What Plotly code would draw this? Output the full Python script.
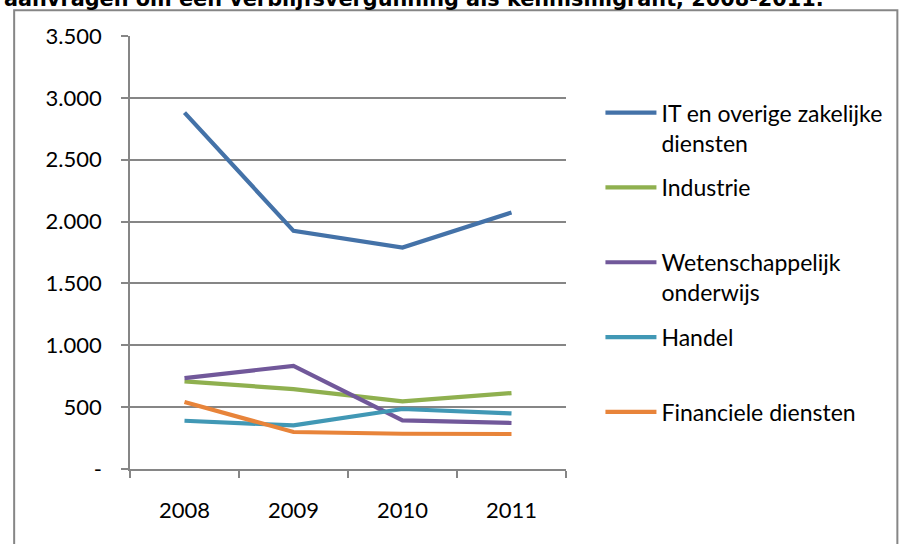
import plotly.graph_objects as go

years = ["2008", "2009", "2010", "2011"]

it_diensten = [2880, 1925, 1790, 2073]
industrie = [708, 646, 546, 614]
wetenschappelijk = [735, 834, 393, 372]
handel = [390, 352, 485, 449]
financieel = [541, 299, 285, 283]

series_names = [
    "IT en overige zakelijke<br>diensten",
    "Industrie<br> ",
    "Wetenschappelijk<br>onderwijs",
    "Handel<br> ",
    "Financiele diensten<br> ",
]
series_values = [it_diensten, industrie, wetenschappelijk, handel, financieel]
series_colors = ["#4472A8", "#8FB04F", "#71589A", "#4198B5", "#E8843A"]

y_tickvals = [0, 500, 1000, 1500, 2000, 2500, 3000, 3500]
y_ticktext = ["-", "500", "1.000", "1.500", "2.000", "2.500", "3.000", "3.500"]

title_text = "aanvragen om een verblijfsvergunning als kennismigrant, 2008-2011."

grid_grey = "#868686"
font_family = "Lato, 'Open Sans', sans-serif"

fig = go.Figure()
for i, (name, vals, col) in enumerate(zip(series_names, series_values, series_colors)):
    fig.add_trace(go.Scatter(
        x=years, y=vals, name=name, mode="lines",
        line=dict(color=col, width=4.2),
        legendgroup=f"g{i}",
    ))

# plot area in pixels: x 129.5..571.7, y 35.7..469.3
fig.update_layout(
    width=900, height=544,
    margin=dict(l=129.5, r=328.3, t=35.7, b=74.7),
    paper_bgcolor="white", plot_bgcolor="white",
    font=dict(family=font_family, size=22, color="#000000"),
    showlegend=True,
    legend=dict(
        x=1.079, xanchor="left", y=0.8725, yanchor="top",
        font=dict(family=font_family, size=23, color="#000000"),
        valign="top", traceorder="grouped", tracegroupgap=12,
        itemwidth=51, bgcolor="rgba(0,0,0,0)",
    ),
    annotations=[dict(
        text="<b>" + title_text + "</b>",
        xref="paper", yref="paper", x=-0.2929, y=1.0524,
        xanchor="left", yanchor="bottom", showarrow=False,
        font=dict(family="DejaVu Sans", size=20.8, color="#000000"),
    )],
    shapes=[dict(
        type="rect", xref="paper", yref="paper",
        x0=-0.2657, x1=1.76, y0=-0.2, y1=1.0593,
        line=dict(color=grid_grey, width=2), layer="below",
    )],
)

fig.update_xaxes(
    type="category", range=[-0.5, 3.5],
    tickson="boundaries", ticks="outside", ticklen=7, tickcolor=grid_grey, tickwidth=1.5,
    showline=True, linecolor=grid_grey, linewidth=1.5,
    showgrid=False, zeroline=False, ticklabelstandoff=21,
)
fig.update_yaxes(
    range=[0, 3500], tickvals=y_tickvals, ticktext=y_ticktext,
    ticks="outside", ticklen=7, tickcolor=grid_grey, tickwidth=1.5,
    showline=True, linecolor=grid_grey, linewidth=1.5,
    showgrid=True, gridcolor=grid_grey, gridwidth=1.5, zeroline=False,
    ticklabelstandoff=15,
)

# drop the browser's default body margin so the figure sits at the page corner
fig.write_html("out.html", config={"displayModeBar": False},
               post_script="document.body.style.margin='0';")
